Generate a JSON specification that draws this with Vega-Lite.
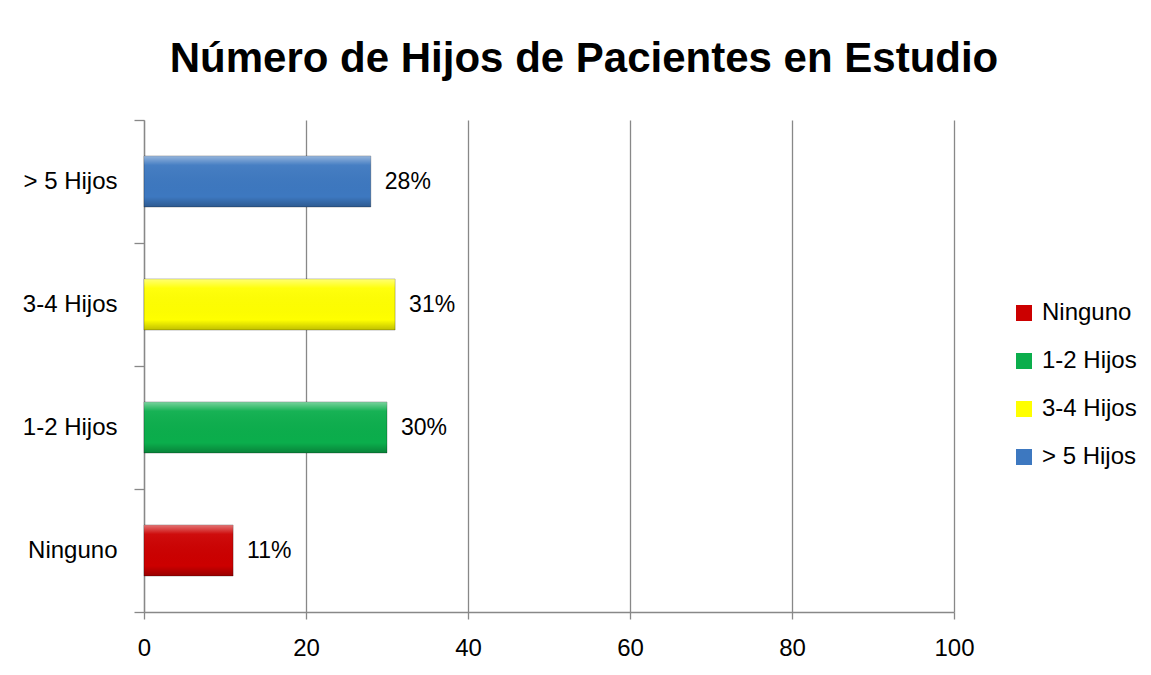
{
  "$schema": "https://vega.github.io/schema/vega-lite/v6.json",
  "width": 810,
  "height": 492,
  "autosize": {"type": "none"},
  "padding": {"left": 144, "top": 120, "right": 197, "bottom": 63},
  "background": "white",
  "title": {
    "text": "Número de Hijos de Pacientes en Estudio",
    "font": "Liberation Sans",
    "fontSize": 42,
    "fontWeight": "bold",
    "color": "#000000",
    "anchor": "middle",
    "dx": 35,
    "dy": 54,
    "baseline": "alphabetic",
    "offset": 48
  },
  "data": {
    "values": [
      {"categoria": "Ninguno", "porcentaje": 11, "etiqueta": "11%"},
      {"categoria": "1-2 Hijos", "porcentaje": 30, "etiqueta": "30%"},
      {"categoria": "3-4 Hijos", "porcentaje": 31, "etiqueta": "31%"},
      {"categoria": "> 5 Hijos", "porcentaje": 28, "etiqueta": "28%"}
    ]
  },
  "encoding": {
    "y": {
      "field": "categoria",
      "type": "nominal",
      "sort": ["> 5 Hijos", "3-4 Hijos", "1-2 Hijos", "Ninguno"],
      "scale": {"paddingInner": 0, "paddingOuter": 0},
      "axis": {
        "title": null,
        "tickBand": "extent",
        "labelFont": "Liberation Sans",
        "labelFontSize": 24,
        "labelColor": "#000000",
        "labelPadding": 17,
        "tickSize": 10,
        "tickColor": "#888888",
        "tickWidth": 1.3,
        "domainColor": "#888888",
        "domainWidth": 1.3,
        "grid": false
      }
    },
    "x": {
      "field": "porcentaje",
      "type": "quantitative",
      "scale": {"domain": [0, 100]},
      "axis": {
        "title": null,
        "values": [0, 20, 40, 60, 80, 100],
        "grid": true,
        "gridColor": "#888888",
        "gridWidth": 1.3,
        "gridOpacity": 1,
        "labelFlush": false,
        "labelFont": "Liberation Sans",
        "labelFontSize": 24,
        "labelColor": "#000000",
        "labelPadding": 17,
        "tickSize": 7,
        "tickColor": "#888888",
        "tickWidth": 1.3,
        "domainColor": "#888888",
        "domainWidth": 1.3
      }
    }
  },
  "layer": [
    {
      "mark": {"type": "bar", "height": {"band": 0.415}, "stroke": "rgba(0,0,0,0.25)", "strokeWidth": 1},
      "encoding": {
        "color": {
          "field": "categoria",
          "type": "nominal",
          "scale": {
            "domain": ["Ninguno", "1-2 Hijos", "3-4 Hijos", "> 5 Hijos"],
            "range": ["#CC0000", "#0BAE4C", "#FFFF00", "#3D78C0"]
          },
          "legend": {
            "title": null,
            "orient": "none",
            "legendX": 868,
            "legendY": 181,
            "padding": 0,
            "symbolType": "square",
            "symbolSize": 256,
            "symbolStrokeWidth": 0,
            "labelFont": "Liberation Sans",
            "labelFontSize": 24,
            "labelColor": "#000000",
            "labelOffset": 6,
            "rowPadding": 24,
            "symbolOpacity": 1
          }
        }
      }
    },
    {
      "mark": {
        "type": "bar",
        "height": {"band": 0.415},
        "fill": {
          "gradient": "linear",
          "x1": 0, "y1": 0, "x2": 0, "y2": 1,
          "stops": [
            {"offset": 0, "color": "rgba(255,255,255,0.45)"},
            {"offset": 0.18, "color": "rgba(255,255,255,0.05)"},
            {"offset": 0.8, "color": "rgba(0,0,0,0)"},
            {"offset": 1, "color": "rgba(0,0,0,0.25)"}
          ]
        }
      }
    },
    {
      "mark": {
        "type": "text",
        "align": "left",
        "baseline": "middle",
        "dx": 14,
        "font": "Liberation Sans",
        "fontSize": 23,
        "color": "#000000"
      },
      "encoding": {"text": {"field": "etiqueta"}}
    }
  ],
  "config": {"view": {"stroke": null}}
}
